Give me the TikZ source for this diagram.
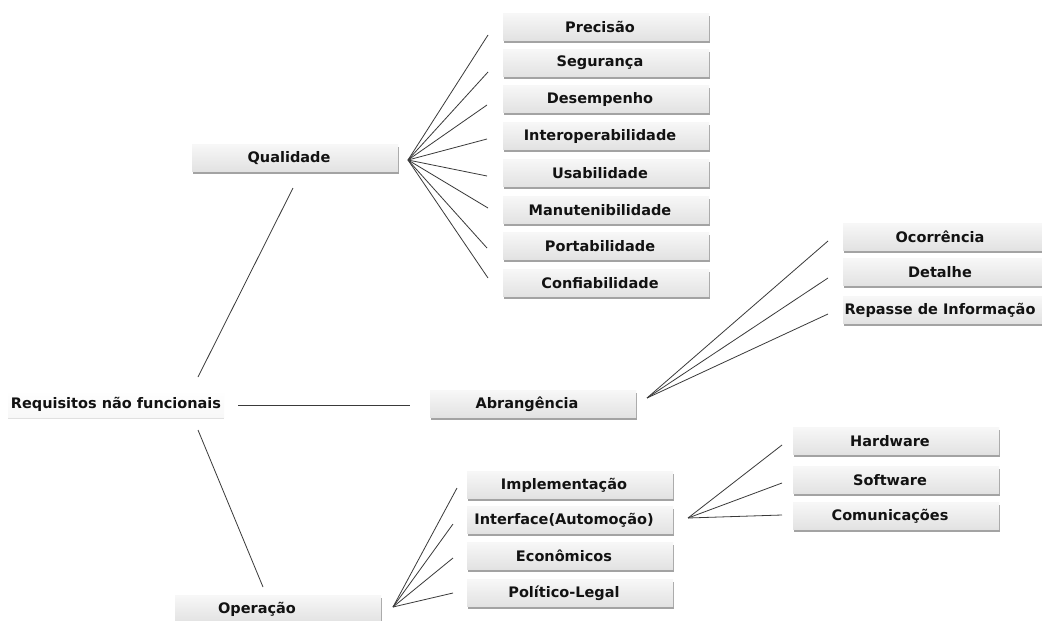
\documentclass[tikz,border=0pt]{standalone}
\usepackage{fontspec}
\setmainfont{DejaVu Sans}
\usetikzlibrary{shadows}
\definecolor{boxtop}{HTML}{F7F7F7}
\definecolor{boxbot}{HTML}{E2E2E2}
\definecolor{linegray}{HTML}{3A3A3A}
\definecolor{txt}{HTML}{121212}
\begin{document}
\begin{tikzpicture}[x=1pt,y=-1pt,
  item/.style={rectangle, minimum width=206pt, minimum height=27pt, inner sep=0pt,
    top color=boxtop, bottom color=boxbot, draw=none,
    drop shadow={shadow xshift=1pt, shadow yshift=-2pt, fill=black!55, opacity=0.65},
    font=\fontsize{14.5}{16}\selectfont\bfseries, text=txt,
    execute at begin node={\hspace*{-12pt}}},
  rootbox/.style={rectangle, minimum width=216pt, minimum height=27pt, inner sep=0pt,
    top color=white, bottom color=black!3, draw=none,
    drop shadow={shadow xshift=0pt, shadow yshift=-1.5pt, fill=black!30, opacity=0.4},
    font=\fontsize{14.5}{16}\selectfont\bfseries, text=txt},
  link/.style={draw=linegray, line width=0.8pt}]
\useasboundingbox (0,0) rectangle (1042,621);
\clip (0,0) rectangle (1042,621);
\fill[white] (0,0) rectangle (1042,621);

% root
\node[rootbox] (root) at (116,404) {Requisitos não funcionais};

% first level
\node[item] (qual) at (295,158) {Qualidade};
\node[item] (abr)  at (533,404) {Abrangência};
\node[item, execute at begin node={\hspace*{-30pt}}] (oper) at (278,609) {Operação};

% quality attributes
\node[item] (q1) at (606,27)  {Precisão};
\node[item] (q2) at (606,63)  {Segurança};
\node[item] (q3) at (606,99)  {Desempenho};
\node[item] (q4) at (606,136) {Interoperabilidade};
\node[item] (q5) at (606,173) {Usabilidade};
\node[item] (q6) at (606,210) {Manutenibilidade};
\node[item] (q7) at (606,246) {Portabilidade};
\node[item] (q8) at (606,283) {Confiabilidade};

% scope
\node[item] (a1) at (946,237) {Ocorrência};
\node[item] (a2) at (946,272) {Detalhe};
\node[item] (a3) at (946,310) {Repasse de Informação};

% operation
\node[item] (o1) at (570,485) {Implementação};
\node[item] (o2) at (570,520) {Interface(Automoção)};
\node[item] (o3) at (570,556) {Econômicos};
\node[item] (o4) at (570,593) {Político-Legal};

% interface
\node[item] (i1) at (896,441) {Hardware};
\node[item] (i2) at (896,480) {Software};
\node[item] (i3) at (896,516) {Comunicações};

% connector end points
\coordinate (rU1) at (198,377); \coordinate (rU2) at (293,188);
\coordinate (rH1) at (238,405); \coordinate (rH2) at (410,405);
\coordinate (rD1) at (198,430); \coordinate (rD2) at (263,587);

\coordinate (qh) at (408,160);
\coordinate (qe1) at (488,35);  \coordinate (qe2) at (488,72);
\coordinate (qe3) at (487,105); \coordinate (qe4) at (487,139);
\coordinate (qe5) at (487,176); \coordinate (qe6) at (488,208);
\coordinate (qe7) at (487,248); \coordinate (qe8) at (488,278);

\coordinate (ah) at (647,398);
\coordinate (ae1) at (828,241); \coordinate (ae2) at (828,278); \coordinate (ae3) at (828,314);

\coordinate (oh) at (393,607);
\coordinate (oe1) at (457,488); \coordinate (oe2) at (453,524);
\coordinate (oe3) at (453,558); \coordinate (oe4) at (453,593);

\coordinate (ih) at (688,518);
\coordinate (ie1) at (782,445); \coordinate (ie2) at (782,483); \coordinate (ie3) at (782,515);

% connectors
\draw[link] (rU1) -- (rU2);
\draw[link] (rH1) -- (rH2);
\draw[link] (rD1) -- (rD2);
\foreach \i in {1,...,8} \draw[link] (qh) -- (qe\i);
\foreach \i in {1,2,3} \draw[link] (ah) -- (ae\i);
\foreach \i in {1,...,4} \draw[link] (oh) -- (oe\i);
\foreach \i in {1,2,3} \draw[link] (ih) -- (ie\i);
\end{tikzpicture}
\end{document}
